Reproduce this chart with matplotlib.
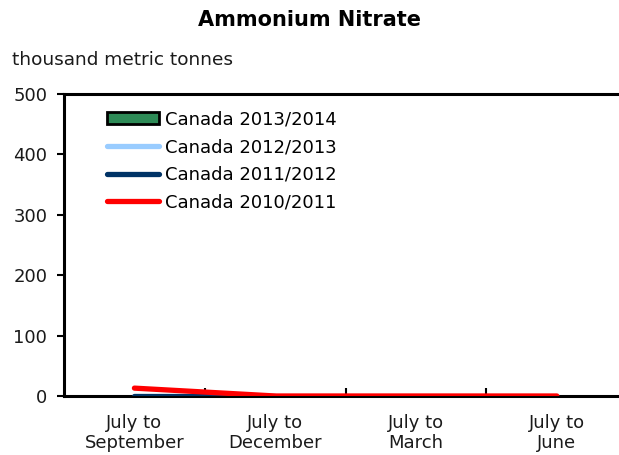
import numpy as np
import matplotlib.pyplot as plt
from matplotlib.patches import Patch
from matplotlib.lines import Line2D

# Données
periods = ['July to\nSeptember', 'July to\nDecember', 'July to\nMarch', 'July to\nJune']
can_2013_14 = [0, 0, 0, 0]
can_2012_13 = [np.nan, np.nan, np.nan, np.nan]
can_2011_12 = [0, 0, np.nan, np.nan]
can_2010_11 = [13, 0, 0, 0]

plt.rcParams['font.family'] = 'DejaVu Sans'

fig = plt.figure(figsize=(6.19, 4.55), dpi=100)
ax = fig.add_axes([0.1034, 0.1297, 0.910, 0.6637])

x = np.arange(len(periods))
ax.bar(x, can_2013_14, width=0.5, color='#2e8b57', edgecolor='black', zorder=1)
ax.plot(x, can_2012_13, color='#99ccff', lw=3.8, solid_capstyle='round', zorder=2)
ax.plot(x, can_2011_12, color='#003366', lw=3.8, solid_capstyle='round', zorder=3)
ax.plot(x, can_2010_11, color='#ff0000', lw=3.8, solid_capstyle='round', zorder=4)

ax.set_xlim(-0.5, 3.5)
ax.set_ylim(0, 500)
ax.set_yticks([0, 100, 200, 300, 400, 500])
ax.set_xticks(x)
ax.set_xticklabels(periods, fontsize=13, color='#1a1a1a', linespacing=1.15)
ax.tick_params(axis='x', length=0, pad=13)
ax.set_xticks([0.5, 1.5, 2.5], minor=True)
ax.tick_params(axis='x', which='minor', direction='in', length=6, width=1.5)
ax.tick_params(axis='y', direction='out', length=5, width=1.5, labelsize=13,
               labelcolor='#1a1a1a', pad=7)
for s in ax.spines.values():
    s.set_linewidth(2.2)

handles = [Patch(facecolor='#2e8b57', edgecolor='black', linewidth=2),
           Line2D([], [], color='#99ccff', lw=3.8, solid_capstyle='round'),
           Line2D([], [], color='#003366', lw=3.8, solid_capstyle='round'),
           Line2D([], [], color='#ff0000', lw=3.8, solid_capstyle='round')]
labels = ['Canada 2013/2014', 'Canada 2012/2013', 'Canada 2011/2012', 'Canada 2010/2011']
leg = ax.legend(handles, labels, loc='upper left', bbox_to_anchor=(0.06, 0.975),
                frameon=False, fontsize=13, handlelength=2.9, handletextpad=0.3,
                labelspacing=0.53, handleheight=0.6, borderpad=0)

fig.text(0.5, 0.955, 'Ammonium Nitrate', ha='center', va='center',
         fontsize=15, fontweight='bold')
fig.text(0.019, 0.868, 'thousand metric tonnes', ha='left', va='center',
         fontsize=13.3, color='#1a1a1a')

plt.savefig('out.png', dpi=100)
